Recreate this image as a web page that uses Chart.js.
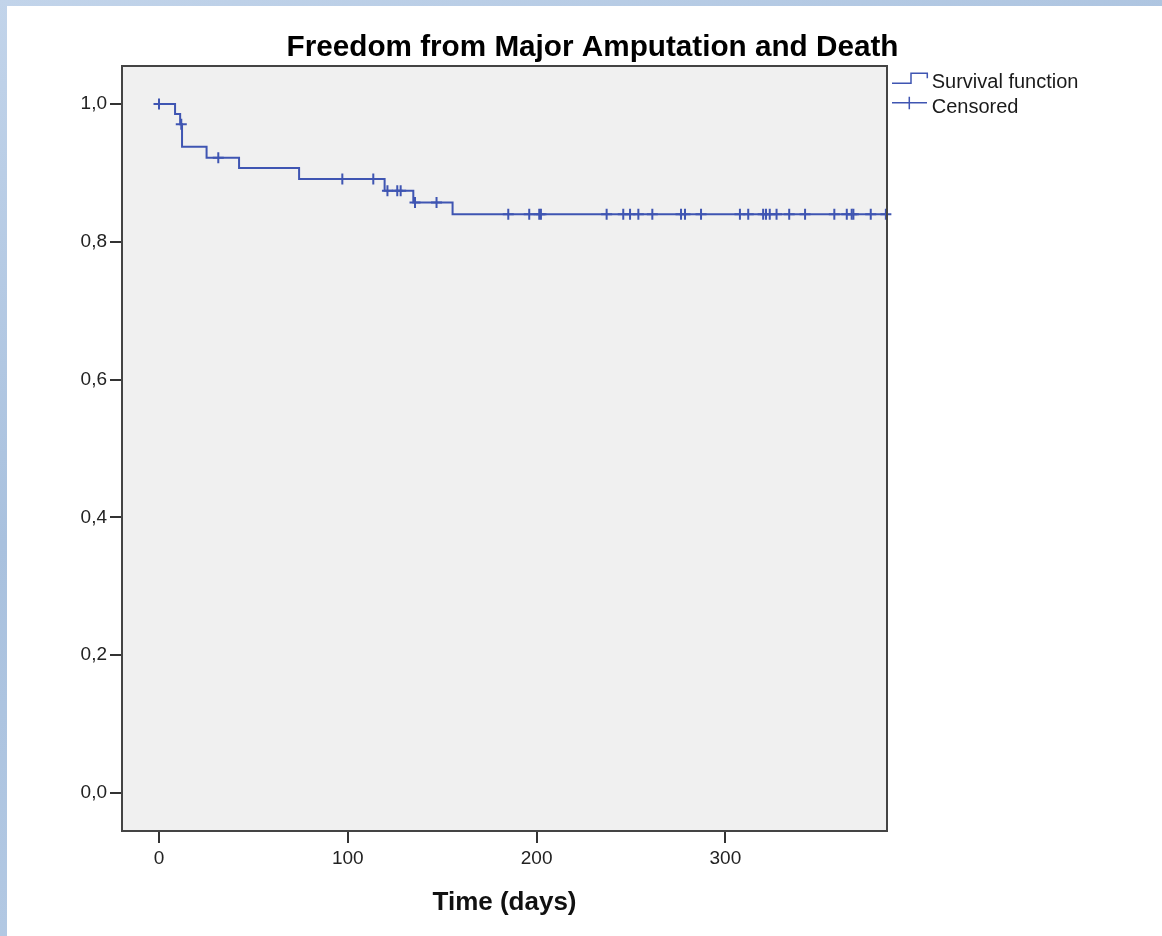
<!DOCTYPE html>
<html>
<head>
<meta charset="utf-8">
<script src="https://cdn.jsdelivr.net/npm/chart.js@4"></script>
<style>
  body {
    margin: 0;
    width: 1162px;
    height: 936px;
    overflow: hidden;
    background: linear-gradient(160deg, #c2d4ea 0%, #a9c1de 40%, #bcd0e8 100%);
  }
  #wrap {
    position: absolute;
    left: 7px;
    top: 6px;
    width: 1155px;
    height: 930px;
    background: #fff;
  }
</style>
</head>
<body>
<div id="wrap"><canvas id="km" width="1155" height="930"></canvas></div>
<script>
// Kaplan-Meier step curve (time in days, cumulative survival)
const stepTimes = [0, 8.5, 11.2, 12.2, 25.2, 42.4, 74.2, 119.5, 134.7, 155.5, 385.5];
const stepSurv = [1.0, 0.9855, 0.9705, 0.938, 0.922, 0.907, 0.891, 0.874, 0.857, 0.840, 0.840];

// censored observations
const censorTimes = [0, 11.8, 31.4, 97.1, 113.5, 121, 126.2, 128, 135.6, 147,
  185, 196.1, 201.4, 202.3, 237.1, 245.9, 249.5, 253.9, 261.3, 276.5, 278.6, 287.1,
  307.7, 312.1, 320, 321.5, 323.5, 327.1, 333.8, 342.2, 357.7, 364.3, 366.9, 367.8, 377, 385];
const censorSurv = [1.0, 0.9705, 0.922, 0.891, 0.891, 0.874, 0.874, 0.874, 0.857, 0.857,
  0.84, 0.84, 0.84, 0.84, 0.84, 0.84, 0.84, 0.84, 0.84, 0.84, 0.84, 0.84,
  0.84, 0.84, 0.84, 0.84, 0.84, 0.84, 0.84, 0.84, 0.84, 0.84, 0.84, 0.84, 0.84, 0.84];

const xTicks = [0, 100, 200, 300];
const yTicks = [0, 0.2, 0.4, 0.6, 0.8, 1.0];

const FONT = '"Liberation Sans", Arial, sans-serif';
const BLUE = "#3f55b2";

const frame = {
  id: "frame",
  beforeDraw(chart) {
    const { ctx, chartArea: a } = chart;
    ctx.save();
    ctx.fillStyle = "#fff";
    ctx.fillRect(0, 0, chart.width, chart.height);
    ctx.fillStyle = "#f0f0f0";
    ctx.fillRect(a.left, a.top, a.right - a.left, a.bottom - a.top);
    ctx.restore();
  },
  afterDraw(chart) {
    const { ctx, chartArea: a } = chart;
    ctx.save();
    ctx.strokeStyle = "#444";
    ctx.lineWidth = 2;
    ctx.strokeRect(a.left, a.top, a.right - a.left, a.bottom - a.top);

    // title
    ctx.fillStyle = "#000";
    ctx.font = "bold 29.7px " + FONT;
    ctx.textAlign = "center";
    ctx.textBaseline = "alphabetic";
    ctx.fillText("Freedom from Major Amputation and Death", 585.5, 50);

    // legend
    ctx.strokeStyle = BLUE;
    ctx.lineWidth = 1.5;
    ctx.beginPath();
    ctx.moveTo(885, 77.3);
    ctx.lineTo(904, 77.3);
    ctx.lineTo(904, 67.3);
    ctx.lineTo(920.3, 67.3);
    ctx.lineTo(920.3, 72.3);
    ctx.stroke();
    ctx.beginPath();
    ctx.moveTo(885, 96.7);
    ctx.lineTo(920, 96.7);
    ctx.moveTo(902.3, 90.7);
    ctx.lineTo(902.3, 103.3);
    ctx.stroke();

    ctx.fillStyle = "#1a1a1a";
    ctx.font = "20px " + FONT;
    ctx.textAlign = "left";
    ctx.fillText("Survival function", 924.7, 82.3);
    ctx.fillText("Censored", 924.7, 106.7);
    ctx.restore();
  },
};

const ctx = document.getElementById("km");

const kmChart = new Chart(ctx, {
  data: {
    datasets: [
      {
        type: "line",
        label: "Survival function",
        data: stepTimes.map((t, i) => ({ x: t, y: stepSurv[i] })),
        stepped: "before",
        borderColor: BLUE,
        borderWidth: 2,
        pointRadius: 0,
        fill: false,
      },
      {
        type: "scatter",
        label: "Censored",
        data: censorTimes.map((t, i) => ({ x: t, y: censorSurv[i] })),
        pointStyle: "cross",
        pointRadius: 5.5,
        pointBorderWidth: 2,
        borderColor: BLUE,
        clip: false,
      },
    ],
  },
  options: {
    responsive: false,
    animation: false,
    layout: { padding: { left: 0, top: 60, right: 275, bottom: 0 } },
    plugins: {
      legend: { display: false },
      title: { display: false },
      tooltip: { enabled: false },
    },
    scales: {
      x: {
        type: "linear",
        min: -19.6,
        max: 385.6,
        afterBuildTicks: (s) => { s.ticks = xTicks.map((v) => ({ value: v })); },
        afterFit: (s) => { s.height = 105; },
        ticks: {
          font: { family: FONT, size: 19 },
          color: "#222",
          padding: 4,
          maxRotation: 0,
          autoSkip: false,
        },
        grid: { drawOnChartArea: false, drawTicks: true, tickLength: 12, color: "#333", lineWidth: 2 },
        border: { display: false },
        title: {
          display: true,
          text: "Time (days)",
          font: { family: FONT, size: 26, weight: "bold" },
          color: "#111",
          padding: { top: 0, bottom: 18 },
        },
      },
      y: {
        type: "linear",
        min: -0.055,
        max: 1.055,
        afterBuildTicks: (s) => { s.ticks = yTicks.map((v) => ({ value: v })); },
        afterFit: (s) => { s.width = 115; },
        ticks: {
          font: { family: FONT, size: 19 },
          color: "#222",
          padding: 3,
          callback: (v) => v.toFixed(1).replace(".", ","),
        },
        grid: { drawOnChartArea: false, drawTicks: true, tickLength: 12, color: "#333", lineWidth: 2 },
        border: { display: false },
      },
    },
  },
  plugins: [frame],
});
</script>
</body>
</html>
